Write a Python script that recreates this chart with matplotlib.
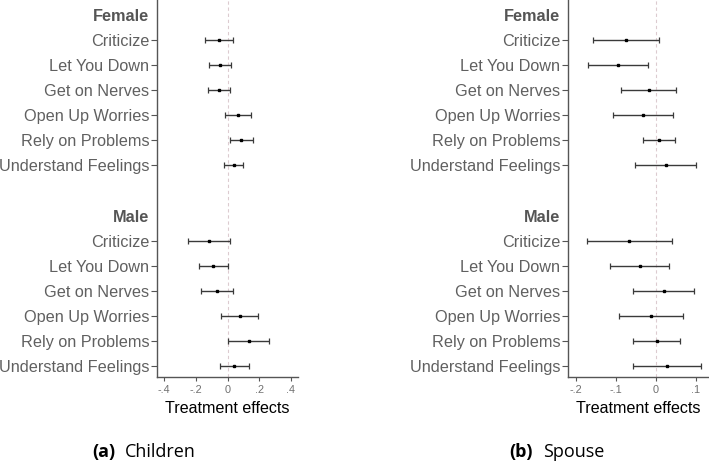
import matplotlib
matplotlib.use("Agg")
import matplotlib.pyplot as plt

# ---- data ----
groups = ["Female", "Male"]
items = ["Criticize", "Let You Down", "Get on Nerves",
         "Open Up Worries", "Rely on Problems", "Understand Feelings"]

# children panel
child_f_est = [-0.055, -0.046, -0.055, 0.067, 0.084, 0.040]
child_f_lo = [-0.143, -0.116, -0.122, -0.015, 0.013, -0.019]
child_f_hi = [0.032, 0.021, 0.015, 0.150, 0.158, 0.097]
child_m_est = [-0.118, -0.090, -0.068, 0.078, 0.135, 0.044]
child_m_lo = [-0.252, -0.181, -0.170, -0.038, 0.004, -0.050]
child_m_hi = [0.015, 0.000, 0.032, 0.194, 0.263, 0.134]

# spouse panel
sp_f_est = [-0.074, -0.095, -0.018, -0.031, 0.009, 0.025]
sp_f_lo = [-0.157, -0.169, -0.088, -0.107, -0.032, -0.052]
sp_f_hi = [0.008, -0.020, 0.052, 0.043, 0.048, 0.102]
sp_m_est = [-0.066, -0.040, 0.020, -0.011, 0.002, 0.028]
sp_m_lo = [-0.172, -0.114, -0.056, -0.091, -0.056, -0.056]
sp_m_hi = [0.041, 0.033, 0.095, 0.068, 0.060, 0.113]

child_xticks = [-0.4, -0.2, 0, 0.2, 0.4]
child_xlabels = ["-.4", "-.2", "0", ".2", ".4"]
sp_xticks = [-0.2, -0.1, 0, 0.1]
sp_xlabels = ["-.2", "-.1", "0", ".1"]

W, H = 709, 462
fig = plt.figure(figsize=(W / 100, H / 100), dpi=100)
fig.patch.set_facecolor("white")

FONT = "Liberation Sans"
GRAY = "#606060"
SPINE = "#555555"


def panel(rect, f_est, f_lo, f_hi, m_est, m_lo, m_hi, xlim, xticks, xlabels):
    ax = fig.add_axes(rect)
    n = len(items)
    # row positions top -> bottom: header, items, blank, header, items
    f_pos = list(range(1, n + 1))
    m_pos = list(range(n + 3, 2 * n + 3))
    hdr_pos = [0, n + 2]

    ax.axvline(0, color="#dccbd0", lw=0.8, ls=(0, (3, 2.5)), zorder=1)

    for pos, est, lo, hi in [(f_pos, f_est, f_lo, f_hi), (m_pos, m_est, m_lo, m_hi)]:
        err = [[e - l for e, l in zip(est, lo)], [h - e for e, h in zip(est, hi)]]
        ax.errorbar(est, pos, xerr=err, fmt="s", color="black", ms=1.7,
                    ecolor="#3a3a3a", elinewidth=1.0, capsize=2.2, capthick=0.9,
                    zorder=3)

    ticks = hdr_pos[:1] + f_pos + hdr_pos[1:] + m_pos
    labels = [groups[0]] + items + [groups[1]] + items
    ax.set_yticks(ticks)
    ax.set_yticklabels(labels, fontsize=11.7, color=GRAY, family=FONT)
    for t, lab in zip(ax.yaxis.get_major_ticks(), ax.get_yticklabels()):
        if lab.get_text() in groups:
            t.tick1line.set_visible(False)
            lab.set_fontweight("bold")
            lab.set_color("#555555")
    ax.tick_params(axis="y", length=4, width=0.8, color=SPINE, pad=1.5)

    ax.set_ylim(14.44, -0.6)
    ax.set_xlim(*xlim)
    ax.set_xticks(xticks)
    ax.set_xticklabels(xlabels, fontsize=7.8, color="#707070", family=FONT)
    ax.tick_params(axis="x", length=3, width=0.8, color=SPINE, pad=3)
    ax.set_xlabel("Treatment effects", fontsize=11.6, color="black",
                  family=FONT, labelpad=4)

    for s in ["top", "right"]:
        ax.spines[s].set_visible(False)
    for s in ["left", "bottom"]:
        ax.spines[s].set_color(SPINE)
        ax.spines[s].set_linewidth(1.0)
    return ax


bottom = (H - 377) / H
height = 377 / H
panel([157 / W, bottom, 141 / W, height],
      child_f_est, child_f_lo, child_f_hi, child_m_est, child_m_lo, child_m_hi,
      (-0.445, 0.445), child_xticks, child_xlabels)
panel([568 / W, bottom, 140 / W, height],
      sp_f_est, sp_f_lo, sp_f_hi, sp_m_est, sp_m_lo, sp_m_hi,
      (-0.22, 0.131), sp_xticks, sp_xlabels)

# captions
cap_y = (H - 457) / H
fig.text(92 / W, cap_y, "(a)", fontsize=13, fontweight="bold", family="Open Sans",
         va="baseline")
fig.text(125 / W, cap_y, "Children", fontsize=13, family="Open Sans", va="baseline")
fig.text(509 / W, cap_y, "(b)", fontsize=13, fontweight="bold", family="Open Sans",
         va="baseline")
fig.text(543 / W, cap_y, "Spouse", fontsize=13, family="Open Sans", va="baseline")

fig.savefig("out.png", dpi=100, facecolor="white")
